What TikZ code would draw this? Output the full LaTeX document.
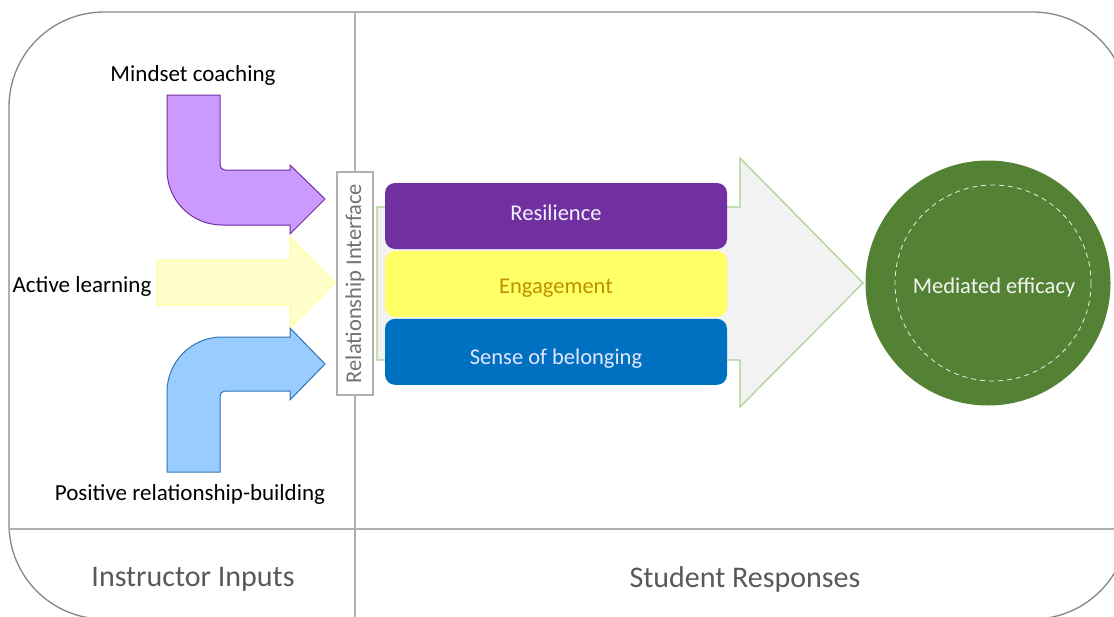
\documentclass[tikz,border=0pt]{standalone}
\usepackage{fontspec}
\setmainfont{Carlito}
\usetikzlibrary{positioning}

\definecolor{framegray}{RGB}{134,134,134}
\definecolor{linegray}{RGB}{175,175,175}
\definecolor{labelgray}{RGB}{89,89,89}
\definecolor{mindfill}{RGB}{204,153,255}
\definecolor{mindline}{RGB}{112,48,160}
\definecolor{activefill}{RGB}{255,255,204}
\definecolor{activeline}{RGB}{255,255,140}
\definecolor{posfill}{RGB}{153,204,255}
\definecolor{posline}{RGB}{46,117,182}
\definecolor{bigfill}{RGB}{242,242,242}
\definecolor{bigline}{RGB}{169,209,142}
\definecolor{respurple}{RGB}{112,48,160}
\definecolor{resyellow}{RGB}{255,255,102}
\definecolor{resblue}{RGB}{0,112,192}
\definecolor{enggold}{RGB}{191,144,0}
\definecolor{effgreen}{RGB}{84,130,53}

\begin{document}
\begin{tikzpicture}[x=1pt,y=-1pt,
    input label/.style={font=\fontsize{23}{27}\selectfont,text=black},
    part label/.style={font=\fontsize{30}{36}\selectfont,text=labelgray},
    resp box/.style={rounded corners=10pt,minimum width=342pt,minimum height=66pt,inner sep=0pt,font=\fontsize{22.5}{27}\selectfont},
    iface box/.style={draw=linegray,fill=white,line width=1.2pt,rotate=90,minimum width=223pt,minimum height=36pt,inner sep=0pt,text=labelgray!85,font=\fontsize{22.5}{27}\selectfont},
    effect node/.style={circle,fill=effgreen,minimum size=245pt,inner sep=0pt}]

    \useasboundingbox (0,0) rectangle (1114,616);
    \clip (0,0) rectangle (1114,616);

    % frame and dividers
    \draw[framegray,line width=1.3pt,rounded corners=95pt] (9,12) rectangle (1128,619);
    \draw[linegray,line width=1.1pt] (355,12) -- (355,619);
    \draw[linegray,line width=1.1pt] (9,529) -- (1128,529);

    \node[part label] (instr) at (193,579) {Instructor Inputs};
    \node[part label] (stud)  at (745,579) {Student Responses};

    % instructor inputs
    \node[input label] (mind)   at (193,75)  {Mindset coaching};
    \node[input label] (active) at (82,286)  {Active learning};
    \node[input label] (pos)    at (190,494) {Positive relationship-building};

    \draw[fill=mindfill,draw=mindline,line width=1pt,line join=miter]
        (167,95) -- (220,95) -- (220,165) arc[start angle=180,end angle=90,radius=5]
        -- (290,170) -- (290,165) -- (325,199) -- (290,234) -- (290,225)
        -- (222,225) arc[start angle=90,end angle=180,radius=55] -- cycle;
    \draw[fill=activefill,draw=activeline,line width=1pt]
        (157,260) -- (290,260) -- (290,237) -- (335,283) -- (290,328) -- (290,305) -- (157,305) -- cycle;
    \draw[fill=posfill,draw=posline,line width=1pt,line join=miter]
        (167,472) -- (220,472) -- (220,396) arc[start angle=180,end angle=270,radius=5]
        -- (290,391) -- (290,400) -- (325,364) -- (290,328) -- (290,337)
        -- (222,337) arc[start angle=270,end angle=180,radius=55] -- cycle;

    % student responses
    \draw[fill=bigfill,draw=bigline,line width=1.2pt]
        (377,207) -- (740,207) -- (740,158) -- (863,283) -- (740,407) -- (740,360) -- (377,360) -- cycle;

    \node[iface box] (iface) at (355,283.5) {Relationship Interface};

    \node[resp box,fill=respurple,text=white!95!blue] (res) at (556,216) {\raisebox{-4pt}[0pt][0pt]{Resilience}};
    \node[resp box,fill=resyellow,text=enggold,below=1.5pt of res] (eng) {\raisebox{-10pt}[0pt][0pt]{Engagement}};
    \node[resp box,fill=resblue,text=white!90!blue,below=1.5pt of eng] (bel) {\raisebox{-13pt}[0pt][0pt]{Sense of belonging}};

    \node[effect node] (eff) at (988,283) {};
    \draw[white!85!effgreen,line width=0.8pt,dash pattern=on 5pt off 4pt] (993,283) circle[radius=98];
    \node[font=\fontsize{22.5}{27}\selectfont,text=white!92!effgreen] (efftext) at (994,287) {Mediated efficacy};

\end{tikzpicture}
\end{document}
